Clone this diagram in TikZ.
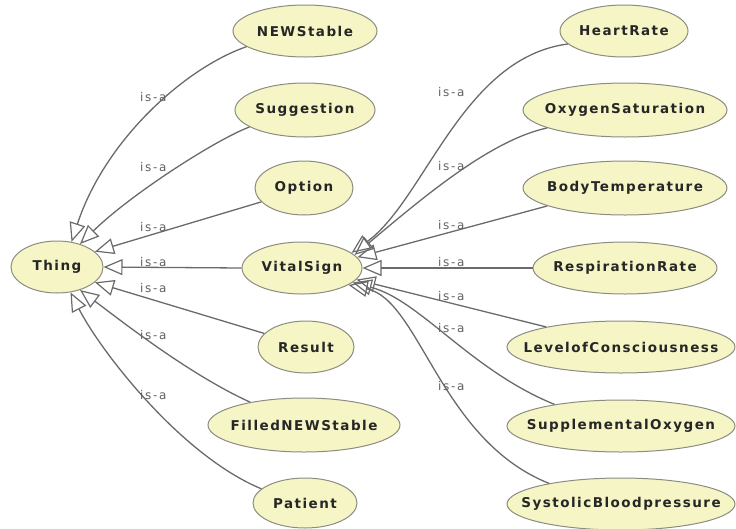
\documentclass[tikz,border=0pt]{standalone}
\usepackage{fontspec}
\usetikzlibrary{shapes.geometric,arrows.meta}
\newfontfamily\nodefont[LetterSpace=11]{DejaVu Sans}
\newfontfamily\lblfont[LetterSpace=14]{DejaVu Sans}
\definecolor{nodefill}{HTML}{F5F5C6}
\definecolor{nodeborder}{HTML}{8C8C80}
\definecolor{edgecol}{HTML}{6A6A6A}
\definecolor{lblcol}{HTML}{606060}
\newcommand{\ntxt}[1]{\makebox[0pt][c]{#1}}
\tikzset{
  cls/.style={ellipse, draw=nodeborder, line width=1pt, fill=nodefill, inner sep=0pt,
    font=\nodefont\bfseries\fontsize{13.5}{15}\selectfont, text=black!85},
  isa/.style={draw=edgecol, line width=1.3pt, -{Triangle[open, length=19pt, width=16pt, line width=1.2pt]}},
  lbl/.style={anchor=west, inner sep=0pt, text=lblcol, font=\lblfont\fontsize{12}{13}\selectfont}
}
\begin{document}
\begin{tikzpicture}[x=1pt, y=-1pt]
\useasboundingbox (0,0) rectangle (736,528);
% left column nodes
\node[cls, minimum width=92pt, minimum height=52pt] (thing) at (57,267) {\ntxt{Thing}};
\node[cls, minimum width=144pt, minimum height=52pt] (newstable) at (305,31) {\ntxt{NEWStable}};
\node[cls, minimum width=140pt, minimum height=54pt] (suggestion) at (305,110) {\ntxt{Suggestion}};
\node[cls, minimum width=98pt, minimum height=54pt] (option) at (304,188) {\ntxt{Option}};
\node[cls, minimum width=120pt, minimum height=52pt] (vital) at (302,268) {\ntxt{VitalSign}};
\node[cls, minimum width=96pt, minimum height=52pt] (result) at (306,347) {\ntxt{Result}};
\node[cls, minimum width=192pt, minimum height=54pt] (filled) at (304,425) {\ntxt{FilledNEWStable}};
\node[cls, minimum width=104pt, minimum height=50pt] (patient) at (305,503) {\ntxt{Patient}};
% right column nodes
\node[cls, minimum width=128pt, minimum height=52pt] (heart) at (624,31) {\ntxt{HeartRate}};
\node[cls, minimum width=204pt, minimum height=54pt] (oxy) at (625,110) {\ntxt{OxygenSaturation}};
\node[cls, minimum width=204pt, minimum height=54pt] (body) at (625,188) {\ntxt{BodyTemperature}};
\node[cls, minimum width=184pt, minimum height=52pt] (resp) at (625,268) {\ntxt{RespirationRate}};
\node[cls, minimum width=228pt, minimum height=52pt] (level) at (621,347) {\ntxt{LevelofConsciousness}};
\node[cls, minimum width=228pt, minimum height=52pt] (supp) at (621,426) {\ntxt{SupplementalOxygen}};
\node[cls, minimum width=228pt, minimum height=52pt] (sys) at (621,504) {\ntxt{SystolicBloodpressure}};
% edges to Thing
\draw[isa] (newstable.195) .. controls (185,68) and (105,140) .. (thing.60);
\draw[isa] (suggestion.197) .. controls (215,140) and (130,195) .. (thing.45);
\draw[isa] (option.198) -- (thing.22);
\draw[isa] (vital.west) -- (thing.east);
\draw[isa] (result.162) -- (thing.-22);
\draw[isa] (filled.157) .. controls (190,375) and (120,320) .. (thing.-45);
\draw[isa] (patient.162) .. controls (180,455) and (100,350) .. (thing.-62);
% edges to VitalSign
\draw[isa] (heart.193) .. controls (462,58) and (425,200) .. (vital.17);
\draw[isa] (oxy.193) .. controls (490,140) and (420,200) .. (vital.14);
\draw[isa] (body.193) -- (vital.11);
\draw[isa] (resp.west) -- (vital.east);
\draw[isa] (level.165) -- (vital.-12);
\draw[isa] (supp.162) .. controls (470,370) and (420,300) .. (vital.-16);
\draw[isa] (sys.164) .. controls (440,440) and (420,300) .. (vital.-20);
% labels
\node[lbl] (l1) at (140,97) {is-a};
\node[lbl] (l2) at (140,167) {is-a};
\node[lbl] (l3) at (140,227) {is-a};
\node[lbl] (l4) at (140,262) {is-a};
\node[lbl] (l5) at (140,288) {is-a};
\node[lbl] (l6) at (140,335) {is-a};
\node[lbl] (l7) at (140,395) {is-a};
\node[lbl] (r1) at (438,92) {is-a};
\node[lbl] (r2) at (438,166) {is-a};
\node[lbl] (r3) at (438,225) {is-a};
\node[lbl] (r4) at (438,262) {is-a};
\node[lbl] (r5) at (438,296) {is-a};
\node[lbl] (r6) at (438,328) {is-a};
\node[lbl] (r7) at (438,386) {is-a};
\end{tikzpicture}
\end{document}
